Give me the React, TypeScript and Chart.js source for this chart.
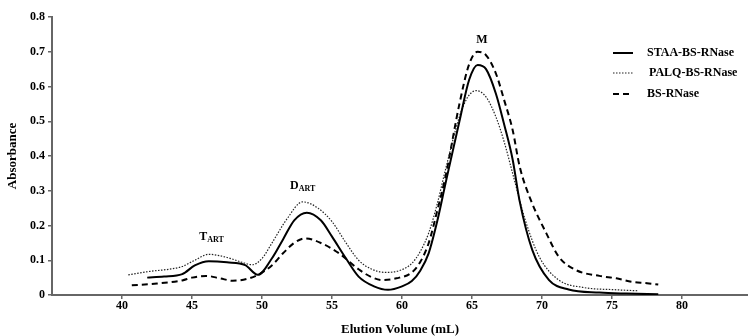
import React, { useEffect, useRef } from 'react';
import { Chart, registerables } from 'chart.js';

Chart.register(...registerables);

// ---- data ----
const seriesNames = ['STAA-BS-RNase', 'PALQ-BS-RNase', 'BS-RNase'];

const staaVolume = [41.8, 43, 44.3, 45.2, 46.2, 47.5, 48.8, 49.7, 50.7, 51.5, 52.3, 53.2, 54.2, 55.0, 56.0, 56.9, 58.0, 59.0, 60.0, 60.7, 61.3, 61.9, 62.5, 63.1, 64.1, 64.8, 65.4, 66.0, 66.7, 67.3, 67.9, 68.4, 69.3, 70.5, 71.9, 74.1, 76.0, 78.3];
const staaAbs = [0.050, 0.053, 0.060, 0.085, 0.097, 0.094, 0.086, 0.058, 0.105, 0.160, 0.215, 0.237, 0.215, 0.168, 0.105, 0.053, 0.025, 0.015, 0.025, 0.040, 0.070, 0.120, 0.210, 0.320, 0.500, 0.620, 0.662, 0.650, 0.580, 0.490, 0.390, 0.270, 0.130, 0.043, 0.016, 0.007, 0.004, 0.002];

const palqVolume = [40.45, 42, 43.5, 44.3, 45.2, 46.2, 47.5, 48.5, 49.3, 50.0, 50.7, 51.8, 52.9, 54.0, 55.0, 56.0, 56.9, 57.8, 58.8, 59.8, 60.7, 61.3, 61.9, 62.5, 63.1, 64.1, 64.7, 65.3, 66.0, 66.7, 67.3, 67.9, 68.8, 69.8, 71.2, 72.9, 75.3, 76.9];
const palqAbs = [0.058, 0.068, 0.075, 0.082, 0.100, 0.117, 0.108, 0.095, 0.087, 0.105, 0.149, 0.220, 0.268, 0.250, 0.211, 0.150, 0.100, 0.075, 0.065, 0.070, 0.091, 0.125, 0.178, 0.260, 0.360, 0.513, 0.570, 0.588, 0.570, 0.513, 0.440, 0.350, 0.216, 0.110, 0.043, 0.022, 0.015, 0.012];

const bsVolume = [40.7, 42.5, 44.3, 45.0, 46.0, 47.0, 47.9, 49.0, 49.8, 50.7, 51.5, 52.3, 53.1, 54.3, 55.5, 56.9, 57.8, 58.6, 59.6, 60.7, 61.3, 61.9, 62.5, 63.1, 64.1, 64.8, 65.4, 66.0, 66.7, 67.3, 67.9, 68.4, 69.2, 70.3, 71.2, 72.4, 74.1, 75.3, 76.4, 77.5, 78.3];
const bsAbs = [0.028, 0.033, 0.042, 0.050, 0.055, 0.048, 0.041, 0.047, 0.060, 0.085, 0.120, 0.150, 0.163, 0.148, 0.120, 0.074, 0.052, 0.043, 0.048, 0.065, 0.095, 0.149, 0.240, 0.340, 0.550, 0.665, 0.700, 0.690, 0.638, 0.560, 0.475, 0.370, 0.273, 0.178, 0.110, 0.072, 0.055, 0.048, 0.038, 0.034, 0.030];

const xTickValues = [40, 45, 50, 55, 60, 65, 70, 75, 80];
const yTickValues = [0, 0.1, 0.2, 0.3, 0.4, 0.5, 0.6, 0.7, 0.8];

const peakMain = ['T', 'D', 'M'];
const peakSub = ['ART', 'ART', ''];
const peakVolume = [46.4, 52.9, 65.7];
const peakAbs = [0.17, 0.316, 0.737];

const FONT = "'Liberation Serif', 'Times New Roman', serif";

const zip = (xs: number[], ys: number[]) => xs.map((x, i) => ({ x, y: ys[i] }));

const peakLabelPlugin = {
  id: 'peakLabels',
  afterDatasetsDraw(chart: any) {
    const { ctx, scales } = chart;
    ctx.save();
    ctx.fillStyle = '#000';
    ctx.textBaseline = 'alphabetic';
    for (let i = 0; i < peakMain.length; i++) {
      const px = scales.x.getPixelForValue(peakVolume[i]);
      const py = scales.y.getPixelForValue(peakAbs[i]);
      ctx.font = `bold 12px ${FONT}`;
      const wMain = ctx.measureText(peakMain[i]).width;
      ctx.font = `bold 8px ${FONT}`;
      const wSub = peakSub[i] ? ctx.measureText(peakSub[i]).width : 0;
      const total = wMain + wSub;
      const left = px - total / 2;
      ctx.font = `bold 12px ${FONT}`;
      ctx.textAlign = 'left';
      ctx.fillText(peakMain[i], left, py + 4);
      if (peakSub[i]) {
        ctx.font = `bold 8px ${FONT}`;
        ctx.fillText(peakSub[i], left + wMain, py + 6);
      }
    }
    ctx.restore();
  },
};

const legendPlugin = {
  id: 'customLegend',
  afterDraw(chart: any) {
    const { ctx } = chart;
    const rows = [53, 73, 94];
    ctx.save();
    chart.data.datasets.forEach((ds: any, i: number) => {
      const y = rows[i];
      ctx.beginPath();
      ctx.strokeStyle = ds.borderColor;
      ctx.lineWidth = ds.borderWidth;
      ctx.setLineDash(ds.borderDash || []);
      ctx.moveTo(613, y);
      ctx.lineTo(633, y);
      ctx.stroke();
      ctx.setLineDash([]);
      ctx.fillStyle = '#000';
      ctx.font = `bold 12px ${FONT}`;
      ctx.textAlign = 'left';
      ctx.textBaseline = 'middle';
      ctx.fillText(ds.label, i === 1 ? 649 : 647, y);
    });
    ctx.restore();
  },
};

export default function App() {
  const ref = useRef<HTMLCanvasElement>(null);
  useEffect(() => {
    const common = { pointRadius: 0, fill: false, cubicInterpolationMode: 'monotone' as const };
    const chart = new Chart(ref.current!, {
      type: 'line',
      data: {
        datasets: [
          { label: seriesNames[0], data: zip(staaVolume, staaAbs), borderColor: '#000', borderWidth: 2, ...common },
          { label: seriesNames[1], data: zip(palqVolume, palqAbs), borderColor: '#222', borderWidth: 1.2, borderDash: [1.5, 1.5], ...common },
          { label: seriesNames[2], data: zip(bsVolume, bsAbs), borderColor: '#000', borderWidth: 2, borderDash: [6, 4], ...common },
        ],
      },
      options: {
        responsive: false,
        animation: false,
        devicePixelRatio: 1,
        layout: { padding: { top: 17, left: 0, right: 0, bottom: 0 } },
        plugins: { legend: { display: false }, tooltip: { enabled: false } },
        scales: {
          x: {
            type: 'linear',
            min: 35,
            max: 84.71,
            afterFit: (s: any) => { s.height = 41; },
            afterBuildTicks: (s: any) => { s.ticks = xTickValues.map((v) => ({ value: v })); },
            grid: { display: true, drawOnChartArea: false, drawTicks: true, tickLength: 4, color: '#666', lineWidth: 1.5 },
            border: { display: true, color: '#666', width: 2 },
            ticks: { color: '#000', font: { family: FONT, size: 12, weight: 'bold' }, padding: 0, maxRotation: 0, autoSkip: false },
            title: { display: true, text: 'Elution Volume (mL)', color: '#000', font: { family: FONT, size: 13, weight: 'bold', lineHeight: 1 }, padding: { top: 4, bottom: 0 } },
          },
          y: {
            type: 'linear',
            min: 0,
            max: 0.8,
            afterFit: (s: any) => { s.width = 52; },
            afterBuildTicks: (s: any) => { s.ticks = yTickValues.map((v) => ({ value: v })); },
            grid: { display: true, drawOnChartArea: false, drawTicks: true, tickLength: 4, color: '#666', lineWidth: 1.5 },
            border: { display: true, color: '#666', width: 2 },
            ticks: {
              color: '#000',
              font: { family: FONT, size: 12, weight: 'bold' },
              padding: 3,
              callback: (v: any) => (Number(v) === 0 ? '0' : Number(v).toFixed(1)),
            },
            title: { display: true, text: 'Absorbance', color: '#000', font: { family: FONT, size: 13, weight: 'bold', lineHeight: 1 }, padding: { top: 6, bottom: 6 } },
          },
        },
      } as any,
      plugins: [peakLabelPlugin, legendPlugin],
    });
    return () => chart.destroy();
  }, []);
  return (
    <div style={{ position: 'fixed', left: 0, top: 0, width: 748, height: 336, background: '#fff' }}>
      <canvas ref={ref} width={748} height={336} style={{ display: 'block' }} />
    </div>
  );
}
